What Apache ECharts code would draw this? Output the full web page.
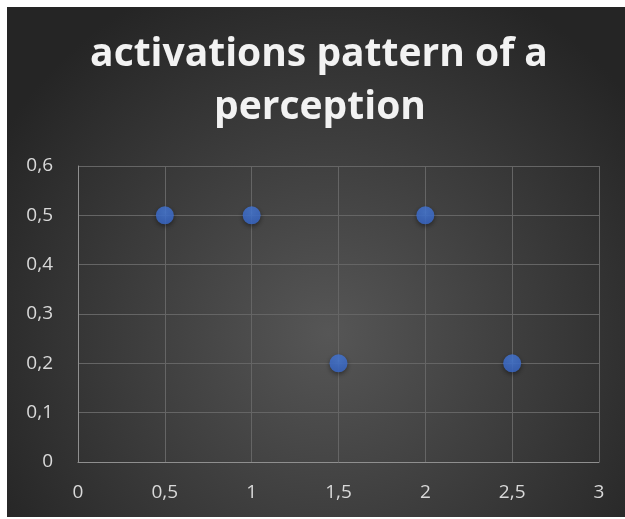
<!DOCTYPE html>
<html>
<head>
<meta charset="utf-8">
<script src="https://cdn.jsdelivr.net/npm/echarts@6/dist/echarts.min.js"></script>
<style>
  html, body { margin: 0; padding: 0; background: #ffffff; }
  #chart { width: 625px; height: 519px; }
</style>
</head>
<body>
<div id="chart"></div>
<script>
// Activation values per input position
const xValues = [0.5, 1, 1.5, 2, 2.5];
const yValues = [0.5, 0.5, 0.2, 0.5, 0.2];
const titleLines = ['activations pattern of a', 'perception'];

const points = xValues.map((x, i) => [x, yValues[i]]);
const comma = v => String(Math.round(v * 10) / 10).replace('.', ',');

const titleStyle = {
  fill: '#f2f2f2',
  font: 'bold 39px "Open Sans"',
  align: 'center',
  verticalAlign: 'middle',
  shadowColor: 'rgba(0,0,0,0.65)',
  shadowBlur: 5,
  shadowOffsetX: 1,
  shadowOffsetY: 2
};

const chart = echarts.init(document.getElementById('chart'), null, { renderer: 'canvas' });
chart.setOption({
  backgroundColor: '#ffffff',
  animation: false,
  graphic: [
    {
      type: 'rect',
      z: -10,
      silent: true,
      shape: { x: 7, y: 7, width: 618, height: 510 },
      style: {
        fill: {
          type: 'radial', x: 0.52, y: 0.64, r: 0.75,
          colorStops: [
            { offset: 0, color: '#565656' },
            { offset: 1, color: '#252525' }
          ]
        }
      }
    },
    {
      type: 'text',
      x: 319, y: 55,
      style: Object.assign({ text: titleLines[0] }, titleStyle)
    },
    {
      type: 'text',
      x: 320, y: 108,
      style: Object.assign({ text: titleLines[1] }, titleStyle)
    }
  ],
  grid: { left: 78, right: 26, top: 166, bottom: 57, containLabel: false },
  xAxis: {
    type: 'value',
    min: 0, max: 3, interval: 0.5,
    axisLine: { show: true, lineStyle: { color: '#8f8f8f', width: 1 } },
    axisTick: { show: false },
    splitLine: { show: true, lineStyle: { color: '#656565', width: 1 } },
    axisLabel: { color: '#d9d9d9', fontSize: 19, fontFamily: 'Open Sans', margin: 21, formatter: comma }
  },
  yAxis: {
    type: 'value',
    min: 0, max: 0.6, interval: 0.1,
    axisLine: { show: true, lineStyle: { color: '#8f8f8f', width: 1 } },
    axisTick: { show: false },
    splitLine: { show: true, lineStyle: { color: '#656565', width: 1 } },
    axisLabel: { color: '#d9d9d9', fontSize: 19, fontFamily: 'Open Sans', margin: 25, formatter: comma }
  },
  series: [{
    type: 'scatter',
    data: points,
    symbol: 'circle',
    symbolSize: 18,
    itemStyle: {
      color: {
        type: 'radial', x: 0.5, y: 0.35, r: 0.6,
        colorStops: [
          { offset: 0, color: '#4a7fe0' },
          { offset: 1, color: '#3a6bcf' }
        ]
      },
      shadowColor: 'rgba(0,0,0,0.55)',
      shadowBlur: 5,
      shadowOffsetY: 2
    }
  }]
});
</script>
</body>
</html>
